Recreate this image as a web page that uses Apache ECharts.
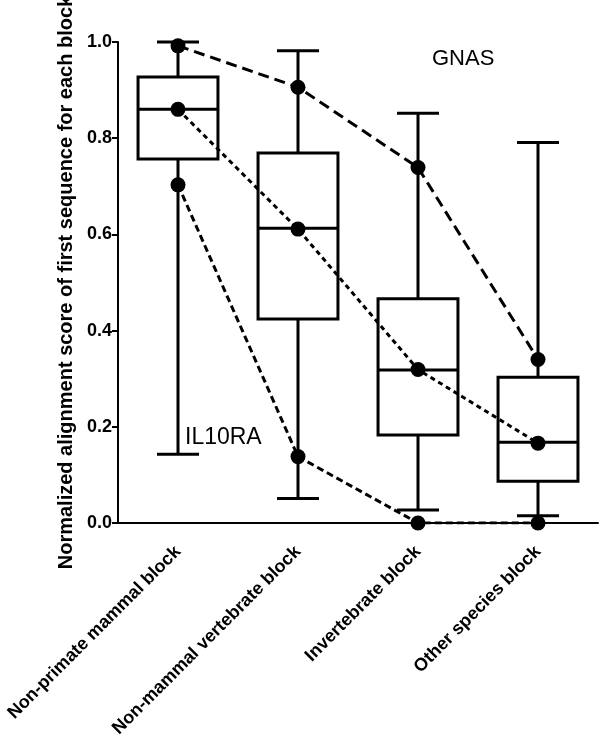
<!DOCTYPE html>
<html>
<head>
<meta charset="utf-8">
<script src="https://cdn.jsdelivr.net/npm/echarts@6/dist/echarts.min.js"></script>
<style>
  html, body { margin: 0; padding: 0; background: #fff; }
  #main { width: 600px; height: 741px; }
</style>
</head>
<body>
<div id="main"></div>
<script>
const categories = [
  "Non-primate mammal block",
  "Non-mammal vertebrate block",
  "Invertebrate block",
  "Other species block",
];

// [min, q1, median, q3, max] per block
const boxStats = [
  [0.143, 0.757, 0.860, 0.927, 1.0],
  [0.051, 0.424, 0.613, 0.769, 0.982],
  [0.027, 0.183, 0.318, 0.466, 0.852],
  [0.015, 0.087, 0.168, 0.303, 0.791],
];

const gnas = [0.992, 0.906, 0.739, 0.340];
const medianTrend = [0.860, 0.611, 0.319, 0.166];
const il10ra = [0.703, 0.138, 0.0, 0.0];

const yTicks = [0, 0.2, 0.4, 0.6, 0.8, 1.0];

const FONT = "'Liberation Sans', Arial, sans-serif";

const chart = echarts.init(document.getElementById("main"));

function renderBox(params, api) {
  const x = api.value(0);
  const pMin = api.coord([x, api.value(1)]);
  const pQ1 = api.coord([x, api.value(2)]);
  const pMed = api.coord([x, api.value(3)]);
  const pQ3 = api.coord([x, api.value(4)]);
  const pMax = api.coord([x, api.value(5)]);
  const band = api.size([1, 0])[0];
  const hw = band * 0.333; // half box width
  const hc = band * 0.175; // half cap width
  const cx = pMed[0];
  const style = { stroke: "#000", lineWidth: 3, fill: null };
  const line = (x1, y1, x2, y2) => ({
    type: "line",
    shape: { x1, y1, x2, y2 },
    style,
  });
  return {
    type: "group",
    children: [
      {
        type: "rect",
        shape: { x: cx - hw, y: pQ3[1], width: hw * 2, height: pQ1[1] - pQ3[1] },
        style,
      },
      line(cx - hw, pMed[1], cx + hw, pMed[1]),
      line(cx, pQ3[1], cx, pMax[1]),
      line(cx, pQ1[1], cx, pMin[1]),
      line(cx - hc, pMax[1], cx + hc, pMax[1]),
      line(cx - hc, pMin[1], cx + hc, pMin[1]),
    ],
  };
}

const trendLine = (name, data, dash) => ({
  name,
  type: "line",
  data,
  z: 5,
  symbol: "circle",
  symbolSize: 15,
  itemStyle: { color: "#000" },
  lineStyle: { color: "#000", width: 3, type: dash },
  silent: true,
});

const option = {
  backgroundColor: "#fff",
  animation: false,
  textStyle: { fontFamily: FONT },
  grid: { left: 118, right: 2, top: 42, bottom: 218, outerBoundsMode: "none", containLabel: false },
  xAxis: {
    type: "category",
    data: categories,
    axisLine: { lineStyle: { color: "#000", width: 2 } },
    axisTick: { alignWithLabel: true, length: 6, lineStyle: { color: "#000", width: 2 } },
    axisLabel: {
      rotate: 45,
      color: "#000",
      fontSize: 18,
      fontWeight: "bold",
      fontFamily: FONT,
      margin: 26,
      interval: 0,
    },
    splitLine: { show: false },
  },
  yAxis: {
    type: "value",
    min: yTicks[0],
    max: yTicks[yTicks.length - 1],
    interval: 0.2,
    name: "Normalized alignment score of first sequence for each block",
    nameLocation: "middle",
    nameGap: 42,
    nameTextStyle: { color: "#000", fontSize: 20, fontWeight: "bold", fontFamily: FONT },
    axisLine: { show: true, lineStyle: { color: "#000", width: 2 } },
    axisTick: { show: true, length: 6, lineStyle: { color: "#000", width: 2 } },
    axisLabel: {
      color: "#000",
      fontSize: 18,
      fontWeight: "bold",
      fontFamily: FONT,
      margin: 6,
      formatter: (v) => v.toFixed(1),
    },
    splitLine: { show: false },
  },
  series: [
    {
      type: "custom",
      renderItem: renderBox,
      encode: { x: 0, y: [1, 2, 3, 4, 5] },
      data: boxStats.map((s, i) => [i, ...s]),
      z: 2,
      silent: true,
    },
    trendLine("GNAS", gnas, [11, 6]),
    trendLine("Median", medianTrend, [5, 4]),
    trendLine("IL10RA", il10ra, [7, 4]),
  ],
  graphic: [
    {
      type: "text",
      left: 432,
      top: 48,
      style: { text: "GNAS", fontSize: 22, fill: "#000", fontFamily: FONT },
    },
    {
      type: "text",
      left: 185,
      top: 426,
      style: { text: "IL10RA", fontSize: 23, fill: "#000", fontFamily: FONT },
    },
  ],
};

chart.setOption(option);
</script>
</body>
</html>
